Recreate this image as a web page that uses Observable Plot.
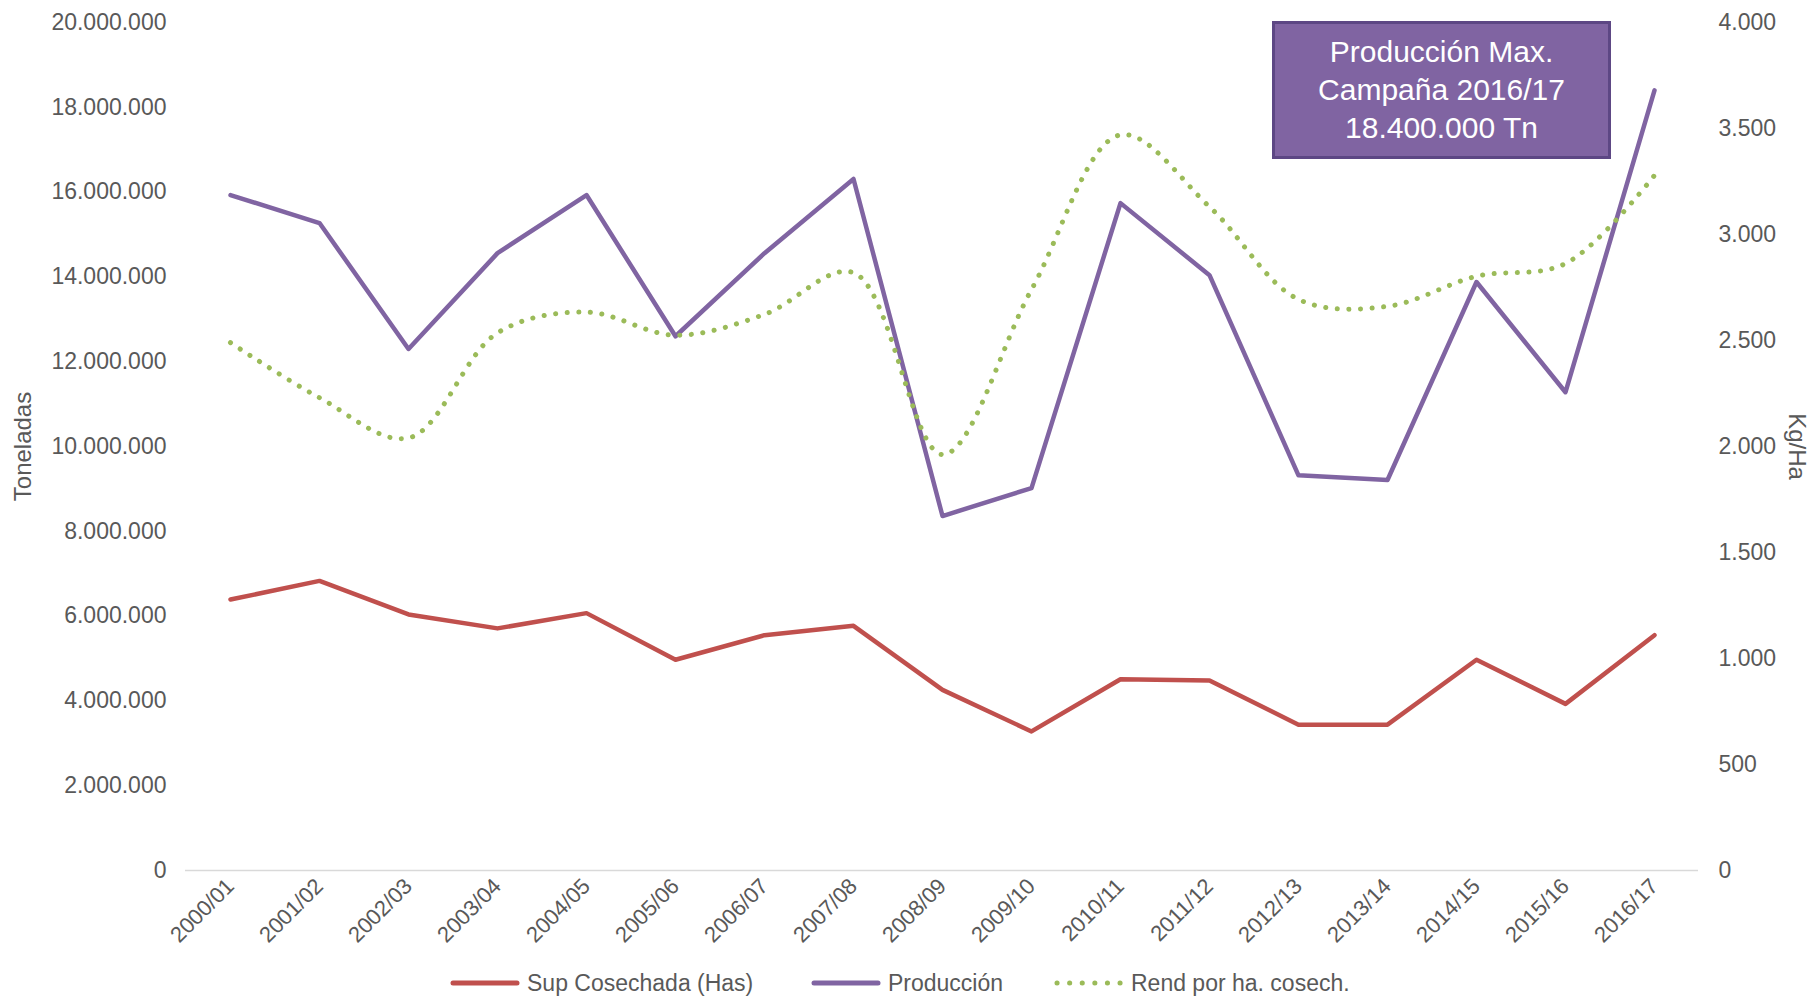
<!DOCTYPE html>
<html>
<head>
<meta charset="utf-8">
<script src="https://cdn.jsdelivr.net/npm/d3@7"></script>
<script src="https://cdn.jsdelivr.net/npm/@observablehq/plot@0.6"></script>
<style>
  html, body { margin: 0; padding: 0; background: #fff; overflow: hidden; }
  body { width: 1817px; height: 997px; position: relative; font-family: "Liberation Sans", Arial, sans-serif; }
  #chart { position: absolute; left: 0; top: 0; }
  .box { position: absolute; left: 1272px; top: 21px; width: 333px; height: 132px; background: #8064A2; border: 3px solid #5D4784; color: #fff; font-size: 30px; line-height: 38px; text-align: center; display: flex; flex-direction: column; justify-content: center; box-sizing: content-box; }
  .leg { position: absolute; top: 968px; height: 30px; display: flex; align-items: center; font-size: 23px; color: #595959; white-space: nowrap; }
  .leg svg { margin-right: 7px; }
</style>
</head>
<body>
<div id="chart"></div>
<div class="box"><div>Producción Max.</div><div>Campaña 2016/17</div><div>18.400.000 Tn</div></div>
<div id="legend"></div>
<script>
const campaigns = ["2000/01","2001/02","2002/03","2003/04","2004/05","2005/06","2006/07","2007/08","2008/09","2009/10","2010/11","2011/12","2012/13","2013/14","2014/15","2015/16","2016/17"];
const supCosechada = [6390000, 6830000, 6040000, 5710000, 6070000, 4970000, 5550000, 5770000, 4260000, 3280000, 4510000, 4480000, 3440000, 3440000, 4970000, 3930000, 5550000];
const produccion = [15930000, 15270000, 12300000, 14560000, 15930000, 12600000, 14560000, 16310000, 8360000, 9020000, 15740000, 14040000, 9320000, 9210000, 13880000, 11280000, 18400000];
const rendimiento = [2490, 2230, 2040, 2536, 2634, 2525, 2623, 2820, 1962, 2740, 3470, 3131, 2694, 2661, 2803, 2863, 3279];
const leftTicks = [0, 2000000, 4000000, 6000000, 8000000, 10000000, 12000000, 14000000, 16000000, 18000000, 20000000];
const rightTicks = [0, 500, 1000, 1500, 2000, 2500, 3000, 3500, 4000];
const seriesNames = ["Sup Cosechada (Has)", "Producción", "Rend por ha. cosech."];
const seriesColors = ["#C0504D", "#8064A2", "#9BBB59"];

const ratio = 20000000 / 4000; // right axis max maps to left axis max
const loc = d3.formatLocale({decimal: ",", thousands: ".", grouping: [3], currency: ["", ""]});
const fmt = loc.format(",.0f");

const rows = campaigns.map((c, i) => ({campaign: c, sup: supCosechada[i], prod: produccion[i], rend: rendimiento[i] * ratio}));

const chart = Plot.plot({
  width: 1817,
  height: 960,
  marginLeft: 185,
  marginRight: 119,
  marginTop: 22,
  marginBottom: 90,
  style: {fontFamily: "'Liberation Sans', Arial, sans-serif", fontSize: "23px", color: "#595959", background: "#fff", overflow: "visible"},
  x: {type: "point", domain: campaigns, padding: 0.5},
  y: {domain: [0, 20000000]},
  marks: [
    Plot.ruleY([0], {stroke: "#D9D9D9", strokeWidth: 1.5}),
    Plot.axisY(leftTicks, {anchor: "left", tickSize: 0, tickPadding: 19, tickFormat: fmt, label: null, fontSize: 23, fill: "#595959"}),
    Plot.axisY(rightTicks.map(v => v * ratio), {anchor: "right", tickSize: 0, tickPadding: 20, tickFormat: d => fmt(d / ratio), label: null, fontSize: 23, fill: "#595959"}),
    Plot.axisX(campaigns, {tickRotate: -45, tickSize: 0, tickPadding: 12, label: null, fontSize: 22, fill: "#595959"}),
    Plot.text(["Toneladas"], {frameAnchor: "left", dx: -162, rotate: -90, textAnchor: "middle", fontSize: 24, fill: "#595959"}),
    Plot.text(["Kg/Ha"], {frameAnchor: "right", dx: 98, rotate: 90, textAnchor: "middle", fontSize: 24, fill: "#595959"}),
    Plot.lineY(rows, {x: "campaign", y: "sup", stroke: seriesColors[0], strokeWidth: 4.5}),
    Plot.lineY(rows, {x: "campaign", y: "prod", stroke: seriesColors[1], strokeWidth: 4.5}),
    Plot.lineY(rows, {x: "campaign", y: "rend", stroke: seriesColors[2], strokeWidth: 5, strokeDasharray: "0.1 11.5", strokeLinecap: "round", curve: "catmull-rom"})
  ]
});
document.getElementById("chart").appendChild(chart);

// legend
const legPos = [[450, 525], [811, 888], [1054, 1132]];
const legend = document.getElementById("legend");
seriesNames.forEach((name, i) => {
  const item = document.createElement("div");
  item.className = "leg";
  item.style.left = legPos[i][0] + "px";
  const dotted = i === 2;
  item.innerHTML = `<svg width="70" height="10"><line x1="3" y1="5" x2="67" y2="5" stroke="${seriesColors[i]}" stroke-width="${dotted ? 5 : 5}" stroke-linecap="round" ${dotted ? 'stroke-dasharray="0.1 12.5"' : ''}/></svg><span>${name}</span>`;
  legend.appendChild(item);
});
</script>
</body>
</html>
